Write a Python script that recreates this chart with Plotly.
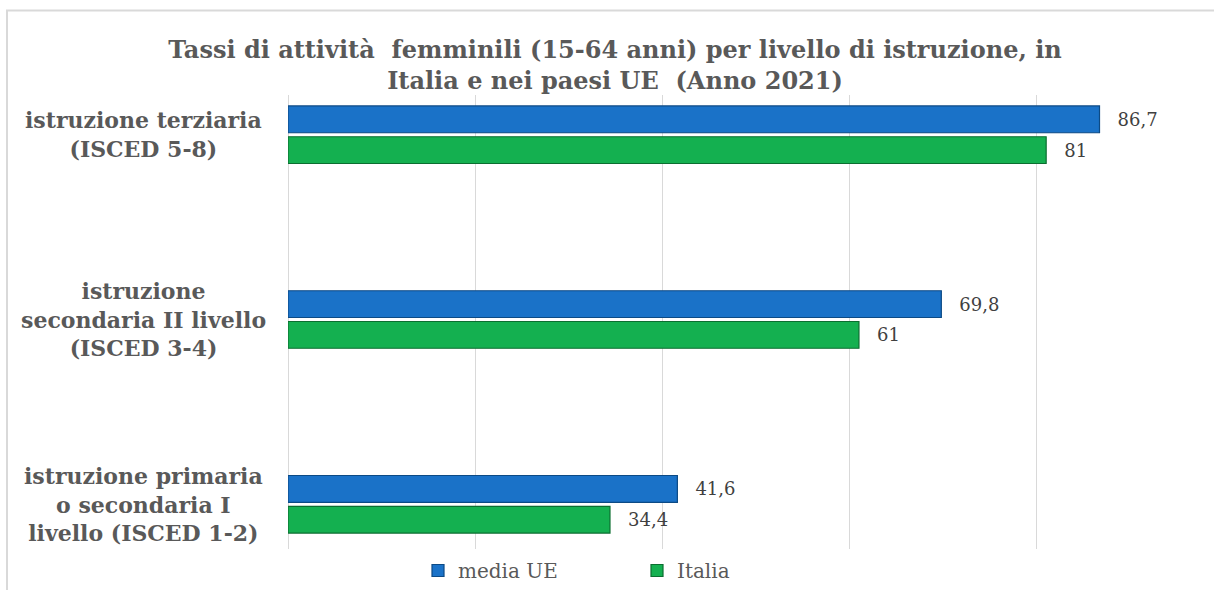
import plotly.graph_objects as go

# categories from bottom to top (as drawn by the category axis)
categories = [
    "istruzione primaria<br>o secondaria I<br>livello (ISCED 1-2)",
    "istruzione<br>secondaria II livello<br>(ISCED 3-4)",
    "istruzione terziaria<br>(ISCED 5-8)",
]
media_ue = [41.6, 69.8, 86.7]
italia = [34.4, 61, 81]

TITLE = "Tassi di attività  femminili (15-64 anni) per livello di istruzione, in<br>Italia e nei paesi UE  (Anno 2021)"
FONT = "DejaVu Serif"
GRAY = "#595959"
GRID = "#d9d9d9"

W, H = 1214, 590
L, R, T, B = 288, 0, 95, 38

ypos = list(range(len(categories)))
label_tpl = "\u00a0\u00a0\u2009%{x}"

fig = go.Figure()
fig.add_trace(go.Bar(
    name="Italia", y=ypos, x=italia, orientation="h",
    marker=dict(color="#14B050", line=dict(color="#0b6e30", width=1.2)),
    text=italia, texttemplate=label_tpl, textposition="outside",
    textfont=dict(family=FONT, size=18, color="#404040"),
    cliponaxis=False, legendrank=2,
))
fig.add_trace(go.Bar(
    name="media UE", y=ypos, x=media_ue, orientation="h",
    marker=dict(color="#1A72C8", line=dict(color="#0c4a85", width=1.2)),
    text=media_ue, texttemplate=label_tpl, textposition="outside",
    textfont=dict(family=FONT, size=18, color="#404040"),
    cliponaxis=False, legendrank=1,
))

plot_w = W - L - R
plot_h = H - T - B

# category labels, centred like the original
for i, c in enumerate(categories):
    fig.add_annotation(
        x=(143 - L) / plot_w, xref="paper", xanchor="center",
        y=i, yref="y", yanchor="middle",
        text="<b>%s</b>" % c, showarrow=False, align="center",
        font=dict(family=FONT, size=22, color=GRAY),
    )

# chart border (left and top edges)
fig.add_shape(
    type="path", xref="paper", yref="paper",
    path="M %f,%f L %f,%f L %f,%f" % (
        (7 - L) / plot_w, -(B + 5) / plot_h,
        (7 - L) / plot_w, (H - B - 10) / plot_h,
        (W + 10 - L) / plot_w, (H - B - 10) / plot_h),
    line=dict(color=GRID, width=2),
)

fig.update_layout(
    width=W, height=H,
    margin=dict(l=L, r=R, t=T, b=B),
    paper_bgcolor="white", plot_bgcolor="white",
    separators=",.",
    barmode="group", bargap=0.667, bargroupgap=0.13,
    title=dict(
        text="<b>%s</b>" % TITLE,
        x=615 / W, xref="container", xanchor="center",
        y=1 - 58 / H, yref="container", yanchor="top",
        font=dict(family=FONT, size=24, color=GRAY),
    ),
    xaxis=dict(
        range=[0, (W - L) / 9.36], dtick=20, showticklabels=False,
        showgrid=True, gridcolor=GRID, gridwidth=1,
        zeroline=True, zerolinecolor=GRID, zerolinewidth=1,
        ticks="", fixedrange=True,
    ),
    yaxis=dict(
        range=[-0.242, 2.215], showticklabels=False, showgrid=False,
        zeroline=False, ticks="",
    ),
    showlegend=True,
    legend=dict(
        orientation="h", x=(418 - L) / plot_w, xanchor="left",
        y=-0.005, yanchor="top",
        font=dict(family=FONT, size=20, color=GRAY),
        entrywidth=174, entrywidthmode="pixels", itemwidth=30,
        bgcolor="rgba(0,0,0,0)",
    ),
)

fig.write_html("out.html", config={"displayModeBar": False},
               post_script="document.body.style.margin='0';")
